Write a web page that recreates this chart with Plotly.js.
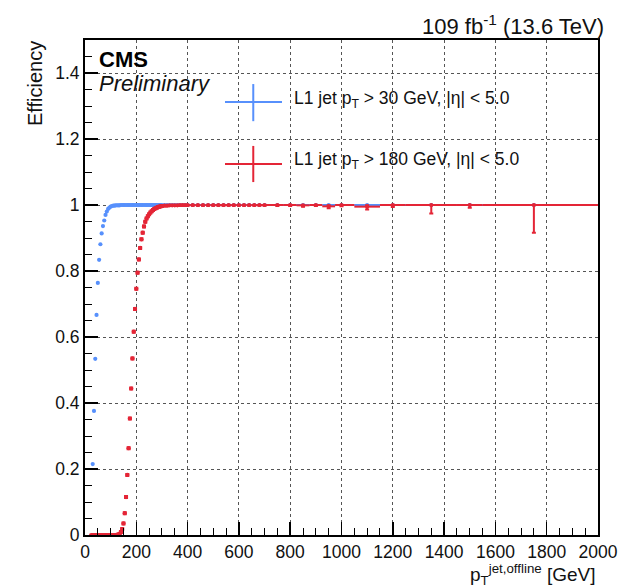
<!DOCTYPE html>
<html>
<head>
<meta charset="utf-8">
<script src="https://cdn.plot.ly/plotly-3.0.1.min.js"></script>
<style>
  html, body { margin: 0; padding: 0; background: #fff; }
  #chart { width: 622px; height: 587px; }
</style>
</head>
<body>
<div id="chart"></div>
<script>
// ---- data ----
// bin centres in offline jet pT [GeV]
const binCenters = [25,30,35,40,45,50,55,60,65,70,75,80,85,90,95,100,105,110,115,120,125,130,135,
  140,145,150,155,160,165,170,175,180,185,190,195,200,205,210,215,220,225,230,235,240,245,250,255,260,265,270,275,280,285,290,295,300,
  310,320,330,340,350,360,370,380,390,400,
  420,440,460,480,500,520,540,560,580,600,620,640,660,680,700,
  750,800,850,900,950,1000,
  1100,1200,1350,1500,1750];
// distance from bin centre to lower / upper bin edge
const binLo = [2.5,2.5,2.5,2.5,2.5,2.5,2.5,2.5,2.5,2.5,2.5,2.5,2.5,2.5,2.5,2.5,2.5,2.5,2.5,2.5,2.5,2.5,2.5,
  2.5,2.5,2.5,2.5,2.5,2.5,2.5,2.5,2.5,2.5,2.5,2.5,2.5,2.5,2.5,2.5,2.5,2.5,2.5,2.5,2.5,2.5,2.5,2.5,2.5,2.5,2.5,2.5,2.5,2.5,2.5,2.5,2.5,
  5,5,5,5,5,5,5,5,5,5,
  10,10,10,10,10,10,10,10,10,10,10,10,10,10,10,
  25,25,25,25,25,25,
  50,50,100,50,200];
const binHi = [2.5,2.5,2.5,2.5,2.5,2.5,2.5,2.5,2.5,2.5,2.5,2.5,2.5,2.5,2.5,2.5,2.5,2.5,2.5,2.5,2.5,2.5,2.5,
  2.5,2.5,2.5,2.5,2.5,2.5,2.5,2.5,2.5,2.5,2.5,2.5,2.5,2.5,2.5,2.5,2.5,2.5,2.5,2.5,2.5,2.5,2.5,2.5,2.5,2.5,2.5,2.5,2.5,2.5,2.5,2.5,5,
  5,5,5,5,5,5,5,5,5,10,
  10,10,10,10,10,10,10,10,10,10,10,10,10,10,25,
  25,25,25,25,25,50,
  50,50,100,50,250];

// L1 jet pT > 30 GeV (starts at the second bin)
const blueX = [30,35,40,45,50,55,60,65,70,75,80,85,90,95,100,105,110,115,120,125,130,135,
  140,145,150,155,160,165,170,175,180,185,190,195,200,205,210,215,220,225,230,235,240,245,250,255,260,265,270,275,280,285,290,295,300,
  310,320,330,340,350,360,370,380,390,400,
  420,440,460,480,500,520,540,560,580,600,620,640,660,680,700,
  750,800,850,900,950,1000,
  1100,1200,1350,1500,1750];
const blueY = [0.215,0.376,0.534,0.667,0.764,0.834,0.881,0.914,0.936,0.953,0.970,0.980,0.988,0.992,0.995,0.997,0.998,0.998,0.999,0.999,0.999,0.999,
  1,1,1,1,1,1,1,1,1,1,1,1,1,1,1,1,1,1,1,1,1,1,1,1,1,1,1,1,1,1,1,1,1,
  1,1,1,1,1,1,1,1,1,1,
  1,1,1,1,1,1,1,1,1,1,1,1,1,1,1,
  1,1,1,1,1,1,
  1,1,1,1,1];

// L1 jet pT > 180 GeV
const redX = binCenters;
const redY = [0,0,0,0,0,0,0,0,0,0,0,0,0,0,0,0,0,0,0,0,0.001,0.002,0.004,
  0.009,0.018,0.035,0.066,0.115,0.182,0.263,0.353,0.444,0.535,0.616,0.685,0.746,0.795,0.835,0.870,0.896,0.916,0.935,0.949,0.959,0.966,0.972,0.977,0.981,0.985,0.988,0.990,0.992,0.994,0.995,0.996,0.997,
  0.998,0.998,0.999,0.999,0.999,0.999,1,1,1,1,
  1,1,1,1,1,1,1,1,1,1,1,1,1,1,1,
  1,1,0.999,1,0.996,1,
  0.995,1,1,1,1];
const redErrDown = [0,0,0,0,0,0,0,0,0,0,0,0,0,0,0,0,0,0,0,0,0.001,0.001,0.002,
  0.003,0.003,0.003,0.003,0.003,0.003,0.003,0.003,0.003,0.003,0.003,0.003,0.003,0.003,0.003,0.003,0.003,0.003,0.003,0.003,0.003,0.003,0.003,0.003,0.003,0.003,0.003,0.003,0.003,0.003,0.003,0.003,0.003,
  0.002,0.002,0.002,0.002,0.002,0.002,0.002,0.002,0.002,0.002,
  0.002,0.002,0.002,0.002,0.002,0.002,0.002,0.002,0.002,0.002,0.002,0.002,0.002,0.002,0.002,
  0.003,0.003,0.004,0.003,0.006,0.004,
  0.009,0.006,0.026,0.008,0.084];
const redErrUp = [0.001,0.001,0.001,0.001,0.001,0.001,0.001,0.001,0.001,0.001,0.001,0.001,0.001,0.001,0.001,0.001,0.001,0.001,0.001,0.001,0.001,0.001,0.002,
  0.003,0.003,0.003,0.003,0.003,0.003,0.003,0.003,0.003,0.003,0.003,0.003,0.003,0.003,0.003,0.003,0.003,0.003,0.003,0.003,0.003,0.003,0.003,0.003,0.003,0.003,0.003,0.003,0.003,0.003,0.003,0.003,0.002,
  0.001,0.001,0.001,0.001,0.001,0.001,0,0,0,0,
  0,0,0,0,0,0,0,0,0,0,0,0,0,0,0,
  0,0,0.001,0,0.003,0,
  0.004,0,0,0,0];

const legendLabels = ["L1 jet p<sub>T</sub> > 30 GeV, |η| < 5.0", "L1 jet p<sub>T</sub> > 180 GeV, |η| < 5.0"];

// ---- style ----
const BLUE = '#5790fc';
const RED = '#e42536';
const FONT = 'Liberation Sans, Arial, Helvetica, sans-serif';

const traces = [
  {
    type: 'scatter', mode: 'markers', name: legendLabels[0], showlegend: false,
    x: blueX, y: blueY,
    marker: { color: BLUE, size: 4.2 },
    error_x: { type: 'data', symmetric: false, array: binHi.slice(1), arrayminus: binLo.slice(1), color: BLUE, thickness: 2, width: 0 },
    cliponaxis: true
  },
  {
    type: 'scatter', mode: 'markers', name: legendLabels[1], showlegend: false,
    x: redX, y: redY,
    marker: { color: RED, size: 4.2 },
    error_x: { type: 'data', symmetric: false, array: binHi, arrayminus: binLo, color: RED, thickness: 2, width: 0 },
    error_y: { type: 'data', symmetric: false, array: redErrUp, arrayminus: redErrDown, color: RED, thickness: 2, width: 2 },
    cliponaxis: true
  }
];

const axisCommon = {
  showline: true, linecolor: '#000', linewidth: 2, mirror: true,
  ticks: 'inside', ticklen: 13, tickwidth: 1.5, tickcolor: '#000',
  showgrid: true, gridcolor: '#555', griddash: 'dot', gridwidth: 1,
  zeroline: false,
  tickfont: { family: FONT, size: 17.5, color: '#111' }
};

const layout = {
  width: 622, height: 587,
  margin: { l: 85, r: 24, t: 40, b: 52 },
  paper_bgcolor: '#fff', plot_bgcolor: '#fff',
  showlegend: false,
  xaxis: Object.assign({}, axisCommon, {
    range: [0, 2000], tick0: 0, dtick: 200,
    minor: { dtick: 50, ticks: 'inside', ticklen: 7, tickwidth: 1, tickcolor: '#000', showgrid: false }
  }),
  yaxis: Object.assign({}, axisCommon, {
    range: [0, 1.5], tick0: 0, dtick: 0.2,
    minor: { dtick: 0.05, ticks: 'inside', ticklen: 7, tickwidth: 1, tickcolor: '#000', showgrid: false }
  }),
  shapes: [
    // legend crosses
    { type: 'line', xref: 'paper', yref: 'paper', x0: 0.2729, x1: 0.384, y0: 0.8747, y1: 0.8747, line: { color: BLUE, width: 2 } },
    { type: 'line', xref: 'paper', yref: 'paper', x0: 0.328, x1: 0.328, y0: 0.836, y1: 0.911, line: { color: BLUE, width: 2 } },
    { type: 'line', xref: 'paper', yref: 'paper', x0: 0.2729, x1: 0.384, y0: 0.7495, y1: 0.7495, line: { color: RED, width: 2 } },
    { type: 'line', xref: 'paper', yref: 'paper', x0: 0.328, x1: 0.328, y0: 0.713, y1: 0.786, line: { color: RED, width: 2 } }
  ],
  annotations: [
    { xref: 'paper', yref: 'paper', x: 0.0234, y: 0.9616, xanchor: 'left', yanchor: 'middle', showarrow: false,
      text: '<b>CMS</b>', font: { family: FONT, size: 22, color: '#000' } },
    { xref: 'paper', yref: 'paper', x: 0.0234, y: 0.913, xanchor: 'left', yanchor: 'middle', showarrow: false,
      text: '<i>Preliminary</i>', font: { family: FONT, size: 22, color: '#111' } },
    { xref: 'paper', yref: 'paper', x: 0.4035, y: 0.8788, xanchor: 'left', yanchor: 'middle', showarrow: false,
      text: legendLabels[0], font: { family: FONT, size: 17.5, color: '#111' } },
    { xref: 'paper', yref: 'paper', x: 0.4035, y: 0.756, xanchor: 'left', yanchor: 'middle', showarrow: false,
      text: legendLabels[1], font: { family: FONT, size: 17.5, color: '#111' } },
    { xref: 'paper', yref: 'paper', x: 1.0156, y: 1.0303, xanchor: 'right', yanchor: 'middle', showarrow: false,
      text: '109 fb<sup>-1</sup> (13.6 TeV)', font: { family: FONT, size: 22, color: '#111' } },
    { xref: 'paper', yref: 'paper', x: -0.0975, y: 0.913, xanchor: 'center', yanchor: 'middle', showarrow: false, textangle: -90,
      text: 'Efficiency', font: { family: FONT, size: 20, color: '#111' } },
    { xref: 'paper', yref: 'paper', x: 1.0, y: -0.079, xanchor: 'right', yanchor: 'middle', showarrow: false,
      text: 'p<sub>T</sub><sup>jet,offline</sup> [GeV]', font: { family: FONT, size: 19, color: '#111' } }
  ]
};

Plotly.newPlot('chart', traces, layout, { displayModeBar: false, staticPlot: true });
</script>
</body>
</html>
